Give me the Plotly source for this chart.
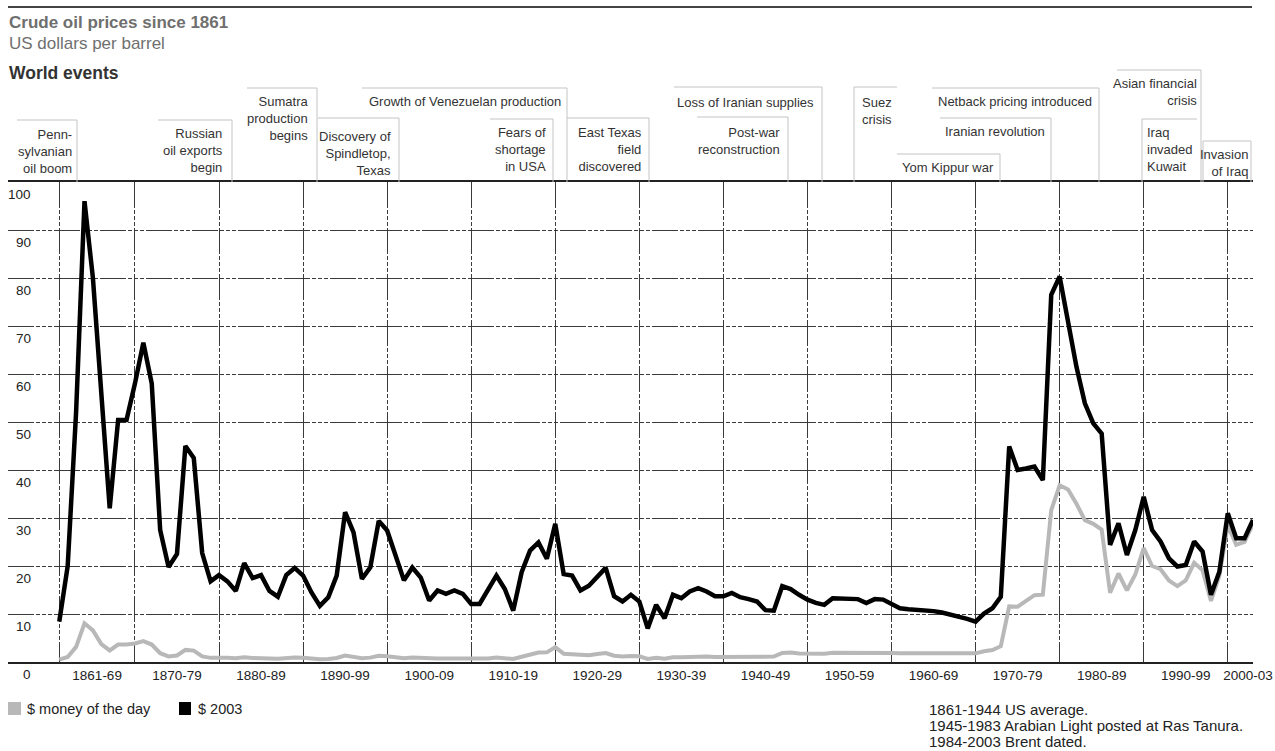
import plotly.graph_objects as go

# ---------------- data ----------------
years = list(range(1861, 2004))

money_of_day = [
    0.49, 1.05, 3.15, 8.06, 6.59, 3.74, 2.41, 3.63, 3.64,            # 1861-69
    3.86, 4.34, 3.64, 1.83, 1.17, 1.35, 2.52, 2.38, 1.17, 0.86,      # 1870-79
    0.95, 0.86, 0.78, 1.00, 0.84, 0.88, 0.71, 0.67, 0.88, 0.94,      # 1880-89
    0.87, 0.67, 0.56, 0.64, 0.84, 1.36, 1.18, 0.79, 0.91, 1.29,      # 1890-99
    1.19, 0.96, 0.80, 0.94, 0.86, 0.62, 0.73, 0.72, 0.72, 0.70,      # 1900-09
    0.61, 0.61, 0.74, 0.95, 0.81, 0.64, 1.10, 1.56, 1.98, 2.01,      # 1910-19
    3.07, 1.73, 1.61, 1.34, 1.43, 1.68, 1.88, 1.30, 1.17, 1.27,      # 1920-29
    1.19, 0.65, 0.87, 0.67, 1.00, 0.97, 1.09, 1.18, 1.13, 1.02,      # 1930-39
    1.02, 1.14, 1.19, 1.20, 1.21, 1.05, 1.12, 1.90, 1.99, 1.78,      # 1940-49
    1.71, 1.71, 1.71, 1.93, 1.93, 1.93, 1.93, 1.90, 2.08, 2.08,      # 1950-59
    1.90, 1.80, 1.80, 1.80, 1.80, 1.80, 1.80, 1.80, 1.80, 1.80,      # 1960-69
    1.80, 2.24, 2.48, 3.29, 11.58, 11.53, 12.80, 13.92, 14.02, 31.61,  # 1970-79
    36.83, 35.93, 32.97, 29.55, 28.78, 27.56, 14.43, 18.44, 14.92, 18.23,  # 1980-89
    23.73, 20.00, 19.32, 16.97, 15.82, 17.02, 20.67, 19.09, 12.72, 17.97,  # 1990-99
    28.50, 24.44, 25.02, 28.83,                                      # 2000-03
]

dollars_2003 = [
    8.4, 20.0, 52.0, 96.0, 80.0, 55.0, 32.0, 50.4, 50.4,             # 1861-69
    58.0, 66.5, 58.0, 27.5, 19.8, 22.5, 45.0, 42.5, 22.7, 16.8,      # 1870-79
    18.1, 16.8, 14.8, 20.6, 17.5, 18.1, 14.8, 13.6, 18.1, 19.6,      # 1880-89
    18.0, 14.5, 11.7, 13.5, 18.0, 31.2, 27.0, 17.3, 19.7, 29.4,      # 1890-99
    27.4, 22.5, 17.0, 19.7, 17.6, 12.8, 14.9, 14.2, 14.9, 14.2,      # 1900-09
    12.1, 12.1, 14.9, 18.0, 15.2, 10.7, 18.7, 23.2, 24.9, 21.5,      # 1910-19
    28.8, 18.3, 18.0, 14.9, 15.9, 17.9, 19.6, 13.7, 12.6, 14.0,      # 1920-29
    12.6, 7.0, 11.9, 9.1, 14.0, 13.3, 14.7, 15.4, 14.7, 13.7,        # 1930-39
    13.7, 14.4, 13.5, 13.1, 12.6, 10.8, 10.7, 15.8, 15.2, 14.0,      # 1940-49
    13.0, 12.3, 11.9, 13.3, 13.3, 13.3, 13.1, 12.3, 13.1, 13.0,      # 1950-59
    12.0, 11.2, 11.0, 10.9, 10.8, 10.6, 10.3, 9.9, 9.5, 9.0,         # 1960-69
    8.4, 10.1, 11.2, 13.6, 44.9, 40.0, 40.3, 40.7, 37.9, 76.5,       # 1970-79
    80.3, 70.6, 61.5, 53.9, 49.7, 47.6, 24.4, 28.9, 22.3, 27.5,      # 1980-89
    34.4, 27.5, 25.1, 21.6, 19.9, 20.2, 25.1, 23.0, 14.0, 18.8,      # 1990-99
    31.0, 25.8, 25.8, 29.6,                                          # 2000-03
]

decade_bounds = [1861, 1870, 1880, 1890, 1900, 1910, 1920, 1930, 1940,
                 1950, 1960, 1970, 1980, 1990, 2000]
decade_labels = ["1861-69", "1870-79", "1880-89", "1890-99", "1900-09",
                 "1910-19", "1920-29", "1930-39", "1940-49", "1950-59",
                 "1960-69", "1970-79", "1980-89", "1990-99", "2000-03"]
decade_label_pos = [1865.5, 1875, 1885, 1895, 1905, 1915, 1925, 1935, 1945,
                    1955, 1965, 1975, 1985, 1995, 2002.4]

y_ticks = [0, 10, 20, 30, 40, 50, 60, 70, 80, 90, 100]
y_tick_labels = ["0", "10", "20", "30", "40", "50", "60", "70", "80", "90", "100"]

series_names = ["$ money of the day", "$ 2003"]

event_texts = [
    "Penn-<br>sylvanian<br>oil boom",
    "Russian<br>oil exports<br>begin",
    "Sumatra<br>production<br>begins",
    "Discovery of<br>Spindletop,<br>Texas",
    "Growth of Venezuelan production",
    "Fears of<br>shortage<br>in USA",
    "East Texas<br>field<br>discovered",
    "Loss of Iranian supplies",
    "Post-war<br>reconstruction",
    "Suez<br>crisis",
    "Yom Kippur war",
    "Netback pricing introduced",
    "Iranian revolution",
    "Asian financial<br>crisis",
    "Iraq<br>invaded<br>Kuwait",
    "Invasion<br>of Iraq",
]

footnotes = [
    "1861-1944 US average.",
    "1945-1983 Arabian Light posted at Ras Tanura.",
    "1984-2003 Brent dated.",
]

# ---------------- layout helpers (pixel placement of decorations) ----------------
W, H = 1275, 751
PL, PR, PT, PB = 8, 1253, 182, 662          # plot area in pixels


def px(x):
    return (x - PL) / (PR - PL)


def py(y):
    return (PB - y) / (PB - PT)


FONT = "Liberation Sans, Arial, Helvetica, sans-serif"

# text x, text y (centre), anchor, top-line y, top-line x0, x1, vertical line xs
event_layout = [
    (74, 151.5, "right", 120, 17, 77, [77]),
    (225, 150.5, "right", 120, 158, 232, [232]),
    (310, 118, "right", 88, 247, 317, [317]),
    (393, 153.5, "right", 118, 318, 399, [399]),
    (563, 102, "right", 88, 362, 567, [567]),
    (548, 149.5, "right", 119, 490, 553, [553]),
    (644, 149.5, "right", 118, 567, 649, [649]),
    (816, 102.5, "right", 87, 674, 822, [822]),
    (782, 141.5, "right", 117, 697, 788, [788]),
    (860, 111.5, "left", 87, 854, 897, [854]),
    (996, 167, "right", 154, 897, 1000, [1000]),
    (1094, 102, "right", 88, 932, 1099, [1099]),
    (1047, 132, "right", 118, 940, 1051, [1051]),
    (1199, 92.5, "right", 70, 1117, 1201, [1201]),
    (1145, 149.5, "left", 119, 1142, 1197, [1142]),
    (1250, 162.5, "right", 141, 1203, 1251, [1203, 1251]),
]

fig = go.Figure()
fig.add_trace(go.Scatter(x=years, y=money_of_day, mode="lines", name=series_names[0],
                         line=dict(color="#b8b8b8", width=4), showlegend=False))
fig.add_trace(go.Scatter(x=years, y=dollars_2003, mode="lines", name=series_names[1],
                         line=dict(color="#000000", width=4.5), showlegend=False))

shapes = []
annotations = []

# top rule
shapes.append(dict(type="line", xref="paper", yref="paper", x0=px(8), x1=px(1252),
                   y0=py(7), y1=py(7), line=dict(color="#444444", width=2)))

# headings
annotations.append(dict(text="<b>Crude oil prices since 1861</b>", xref="paper", yref="paper",
                        x=px(7), y=py(22), xanchor="left", yanchor="middle", showarrow=False,
                        font=dict(family=FONT, size=17, color="#6f6f6f")))
annotations.append(dict(text="US dollars per barrel", xref="paper", yref="paper",
                        x=px(7), y=py(44), xanchor="left", yanchor="middle", showarrow=False,
                        font=dict(family=FONT, size=17, color="#6f6f6f")))
annotations.append(dict(text="<b>World events</b>", xref="paper", yref="paper",
                        x=px(7), y=py(73), xanchor="left", yanchor="middle", showarrow=False,
                        font=dict(family=FONT, size=17.5, color="#333333")))

# events
for txt, (tx, ty, anc, top, hx0, hx1, vxs) in zip(event_texts, event_layout):
    annotations.append(dict(text=txt, xref="paper", yref="paper", x=px(tx), y=py(ty),
                            xanchor=anc, yanchor="middle", align=anc, showarrow=False,
                            font=dict(family=FONT, size=13, color="#333333")))
    shapes.append(dict(type="line", xref="paper", yref="paper", x0=px(hx0), x1=px(hx1),
                       y0=py(top), y1=py(top), line=dict(color="#c4c4c4", width=1)))
    for vx in vxs:
        shapes.append(dict(type="line", xref="paper", yref="paper", x0=px(vx), x1=px(vx),
                           y0=py(top), y1=py(PT), line=dict(color="#c4c4c4", width=1)))

# y tick labels (placed below each gridline, inside the plot)
for v, lab in zip(y_ticks, y_tick_labels):
    annotations.append(dict(text=lab, xref="paper", yref="y", x=px(33), y=v,
                            xanchor="right", yanchor="middle", yshift=-12, showarrow=False,
                            font=dict(family=FONT, size=13.5, color="#222222")))

# legend
legend_items = [(series_names[0], "#b8b8b8", 8, 21, 25), (series_names[1], "#000000", 179, 191, 196)]
for name, col, x0, x1, tx in legend_items:
    shapes.append(dict(type="rect", xref="paper", yref="paper", x0=px(x0), x1=px(x1),
                       y0=py(715), y1=py(702), fillcolor=col, line=dict(width=0)))
    annotations.append(dict(text=name, xref="paper", yref="paper", x=px(tx), y=py(708.5),
                            xanchor="left", yanchor="middle", showarrow=False,
                            font=dict(family=FONT, size=14.5, color="#222222")))

# footnotes
for i, note in enumerate(footnotes):
    annotations.append(dict(text=note, xref="paper", yref="paper", x=px(927), y=py(709 + 16 * i),
                            xanchor="left", yanchor="middle", showarrow=False,
                            font=dict(family=FONT, size=15, color="#222222")))

grid_dash = "26px,2px,4px,2px,4px,2px,4px,2px"

fig.update_layout(
    width=W, height=H,
    margin=dict(l=PL, r=W - PR, t=PT, b=H - PB, pad=0, autoexpand=False),
    paper_bgcolor="white", plot_bgcolor="white",
    showlegend=False,
    font=dict(family=FONT, size=13, color="#222222"),
    xaxis=dict(range=[1854.9, 2003.0], tickmode="array", tickvals=decade_label_pos,
               ticktext=decade_labels, ticks="", showgrid=False, zeroline=False,
               showline=True, mirror=True, linecolor="#222222", linewidth=1.5,
               automargin=False,
               tickfont=dict(family=FONT, size=13.5, color="#222222"),
               minor=dict(tickmode="array", tickvals=decade_bounds, showgrid=True,
                          gridcolor="#3a3a3a", gridwidth=1.2, griddash=grid_dash, ticks=""),
               fixedrange=True),
    yaxis=dict(range=[0, 100], tickmode="array", tickvals=y_ticks, showticklabels=False,
               showgrid=True, gridcolor="#3a3a3a", gridwidth=1.2, griddash=grid_dash,
               zeroline=False, showline=False, ticks="", fixedrange=True, automargin=False),
    shapes=shapes,
    annotations=annotations,
)

fig.write_html("out.html", config={"displayModeBar": False},
               post_script="document.body.style.margin='0';document.body.style.overflow='hidden';")
